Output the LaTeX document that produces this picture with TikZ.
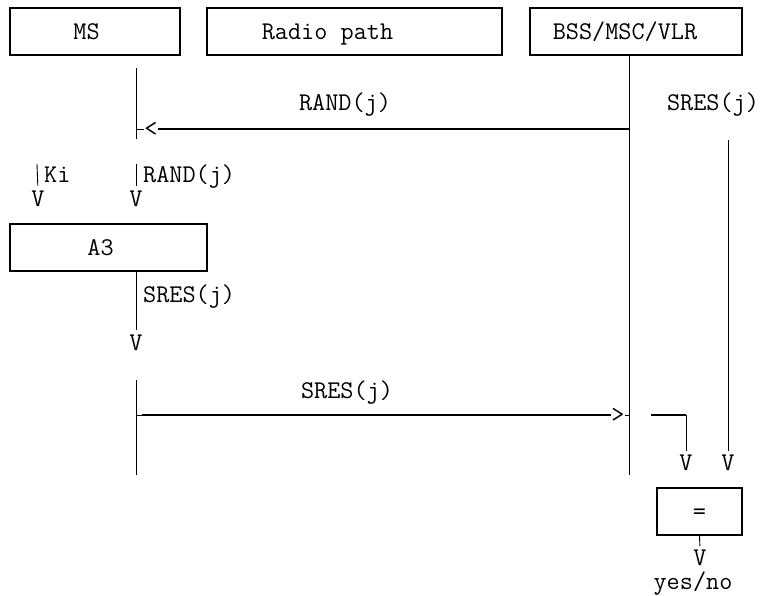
\documentclass[tikz,border=0pt]{standalone}
\usepackage{tikz}

\begin{document}
\begin{tikzpicture}[
  x=1pt,y=-1pt,
  font=\fontsize{25.5}{25.5}\selectfont\ttfamily,
  box/.style={draw=black,line width=1.2pt,minimum height=47pt,inner sep=0pt},
  life/.style={draw=black,line width=0.9pt},
  msg/.style={draw=black,line width=1.7pt},
  lbl/.style={inner sep=0pt,text height=15.6pt,text depth=0pt},
  tip/.style={inner sep=0pt},
]
\useasboundingbox (0,0) rectangle (760,596);

\node[box,minimum width=170pt,label={[lbl,xshift=-8.5pt]center:MS}] (ms) at (95,31.5) {};
\node[box,minimum width=295pt,label={[lbl,xshift=-27pt]center:Radio path}] (radio) at (354.5,31.5) {};
\node[box,minimum width=212pt,label={[lbl,xshift=-11pt]center:BSS/MSC/VLR}] (bss) at (636,31.5) {};

\coordinate (mstop) at (136,68);
\coordinate (msmid) at (136,139);
\coordinate (msbot) at (136,380);
\coordinate (msend) at (136,475);
\coordinate (bssend) at (629,475);
\draw[life] (mstop) -- (msmid);
\draw[life] (msbot) -- (msend);
\draw[life] (bss.south -| bssend) -- (bssend);

\node[lbl] (rand) at (345,103) {RAND(j)};
\node[tip] (rlt) at (151,129) {<};
\draw[life] (mstop |- rlt) -- (rlt.west);
\draw[msg] (rlt.east) -- (bssend |- rlt);

\node[lbl] (sresr) at (713,103) {SRES(j)};
\coordinate (sresrtop) at (728,140);
\node[lbl] (vsresr) at (728,462.3) {V};
\draw[life,shorten >=3pt] (sresrtop) -- (vsresr.north);

\coordinate (kitop) at (37,164);
\coordinate (randtop) at (136,164);
\node[lbl,anchor=west] (ki) at (44,174.8) {Ki};
\node[lbl,anchor=west] (randin) at (143,174.8) {RAND(j)};
\node[lbl] (vki) at (38,198.7) {V};
\node[lbl] (vrand) at (136,198.7) {V};
\draw[life,shorten >=5pt] (kitop) -- (vki.north);
\draw[life,shorten >=5pt] (randtop) -- (vrand.north);

\node[box,minimum width=197pt,label={[lbl,xshift=-8pt]center:A3}] (a3) at (108.5,247.5) {};
\node[lbl,anchor=west] (sresout) at (143,294.6) {SRES(j)};
\node[lbl] (va3) at (136,342.5) {V};
\draw[life,shorten >=5pt] (a3.south -| va3) -- (va3.north);

\node[lbl] (sres) at (347,390.4) {SRES(j)};
\node[tip] (srt) at (618,415) {>};
\draw[life] (msbot |- srt) -- ++(6,0) coordinate (srstub);
\draw[msg] (srstub) -- (srt.west);
\draw[life] (srt.east) -- (bssend |- srt);

\coordinate (hook) at (651,415);
\node[lbl] (vhook) at (686,462.3) {V};
\draw[msg] (hook) -- (hook -| vhook);
\draw[life,shorten >=3pt] (hook -| vhook) -- (vhook.north);

\node[box,minimum width=85pt,label={[lbl]center:=}] (eq) at (699.5,511.5) {};
\node[lbl] (veq) at (700,558.1) {V};
\draw[life,shorten >=4pt] (eq.south) -- (veq.north);
\node[lbl] (yesno) at (693,581.6) {yes/no};
\end{tikzpicture}
\end{document}
